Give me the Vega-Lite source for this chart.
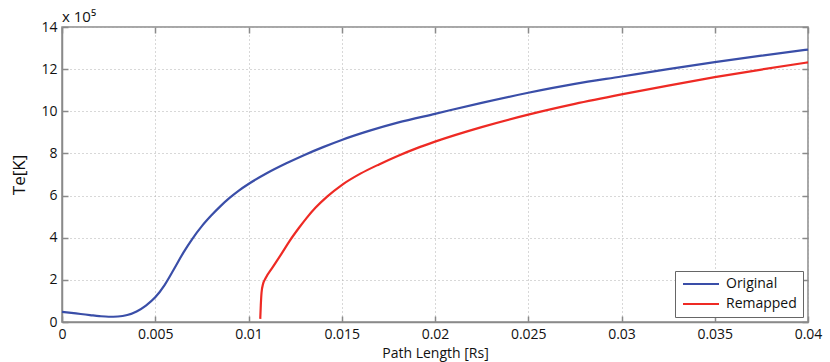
{
  "$schema": "https://vega.github.io/schema/vega-lite/v6.json",
  "width": 746,
  "height": 295,
  "autosize": {"type": "none"},
  "padding": {"left": 62, "top": 27, "right": 22, "bottom": 40},
  "background": "white",
  "config": {
    "font": "Open Sans",
    "view": {"stroke": "#8a8a8a", "strokeWidth": 1.5},
    "axis": {
      "domainColor": "#8a8a8a",
      "domainWidth": 1.5,
      "tickColor": "#8a8a8a",
      "tickWidth": 1.5,
      "tickSize": -6,
      "labelColor": "#111",
      "labelFontSize": 14,
      "titleColor": "#111",
      "titleFontWeight": "normal",
      "gridColor": "#b0b0b0",
      "gridDash": [1, 3],
      "gridWidth": 1
    }
  },
  "title": {
    "text": "x 10⁵",
    "anchor": "start",
    "frame": "group",
    "fontSize": 15,
    "fontWeight": "normal",
    "color": "#111",
    "offset": 3,
    "dy": 8
  },
  "data": {
    "values": [
      {"series": "Original", "path_length": 0, "te": 0.48},
      {"series": "Original", "path_length": 0.0005, "te": 0.43},
      {"series": "Original", "path_length": 0.001, "te": 0.38},
      {"series": "Original", "path_length": 0.0015, "te": 0.33},
      {"series": "Original", "path_length": 0.002, "te": 0.28},
      {"series": "Original", "path_length": 0.0025, "te": 0.25},
      {"series": "Original", "path_length": 0.003, "te": 0.26},
      {"series": "Original", "path_length": 0.0035, "te": 0.33},
      {"series": "Original", "path_length": 0.004, "te": 0.5},
      {"series": "Original", "path_length": 0.0045, "te": 0.78},
      {"series": "Original", "path_length": 0.005, "te": 1.17},
      {"series": "Original", "path_length": 0.0055, "te": 1.75},
      {"series": "Original", "path_length": 0.006, "te": 2.5},
      {"series": "Original", "path_length": 0.0065, "te": 3.28},
      {"series": "Original", "path_length": 0.007, "te": 3.96},
      {"series": "Original", "path_length": 0.0075, "te": 4.55},
      {"series": "Original", "path_length": 0.008, "te": 5.05},
      {"series": "Original", "path_length": 0.0085, "te": 5.5},
      {"series": "Original", "path_length": 0.009, "te": 5.9},
      {"series": "Original", "path_length": 0.0095, "te": 6.25},
      {"series": "Original", "path_length": 0.01, "te": 6.55},
      {"series": "Original", "path_length": 0.011, "te": 7.07},
      {"series": "Original", "path_length": 0.012, "te": 7.52},
      {"series": "Original", "path_length": 0.013, "te": 7.93},
      {"series": "Original", "path_length": 0.014, "te": 8.3},
      {"series": "Original", "path_length": 0.015, "te": 8.64},
      {"series": "Original", "path_length": 0.0165, "te": 9.08},
      {"series": "Original", "path_length": 0.018, "te": 9.46},
      {"series": "Original", "path_length": 0.02, "te": 9.88},
      {"series": "Original", "path_length": 0.0225, "te": 10.4},
      {"series": "Original", "path_length": 0.025, "te": 10.88},
      {"series": "Original", "path_length": 0.0275, "te": 11.3},
      {"series": "Original", "path_length": 0.03, "te": 11.65},
      {"series": "Original", "path_length": 0.0325, "te": 12.0},
      {"series": "Original", "path_length": 0.035, "te": 12.33},
      {"series": "Original", "path_length": 0.0375, "te": 12.64},
      {"series": "Original", "path_length": 0.04, "te": 12.93},
      {"series": "Remapped", "path_length": 0.01063, "te": 0.15},
      {"series": "Remapped", "path_length": 0.01066, "te": 0.8},
      {"series": "Remapped", "path_length": 0.0107, "te": 1.4},
      {"series": "Remapped", "path_length": 0.01078, "te": 1.8},
      {"series": "Remapped", "path_length": 0.0109, "te": 2.05},
      {"series": "Remapped", "path_length": 0.0113, "te": 2.6},
      {"series": "Remapped", "path_length": 0.0118, "te": 3.28},
      {"series": "Remapped", "path_length": 0.0122, "te": 3.84},
      {"series": "Remapped", "path_length": 0.0127, "te": 4.46},
      {"series": "Remapped", "path_length": 0.0131, "te": 4.92},
      {"series": "Remapped", "path_length": 0.0136, "te": 5.43},
      {"series": "Remapped", "path_length": 0.0142, "te": 5.94},
      {"series": "Remapped", "path_length": 0.015, "te": 6.5},
      {"series": "Remapped", "path_length": 0.016, "te": 7.04},
      {"series": "Remapped", "path_length": 0.017, "te": 7.48},
      {"series": "Remapped", "path_length": 0.018, "te": 7.88},
      {"series": "Remapped", "path_length": 0.019, "te": 8.24},
      {"series": "Remapped", "path_length": 0.02, "te": 8.56},
      {"series": "Remapped", "path_length": 0.0225, "te": 9.25},
      {"series": "Remapped", "path_length": 0.025, "te": 9.84},
      {"series": "Remapped", "path_length": 0.0275, "te": 10.35},
      {"series": "Remapped", "path_length": 0.03, "te": 10.8},
      {"series": "Remapped", "path_length": 0.0325, "te": 11.22},
      {"series": "Remapped", "path_length": 0.035, "te": 11.62},
      {"series": "Remapped", "path_length": 0.0375, "te": 11.98},
      {"series": "Remapped", "path_length": 0.04, "te": 12.32}
    ]
  },
  "layer": [
    {
      "mark": {"type": "line", "strokeWidth": 2.2, "interpolate": "monotone"},
      "encoding": {
        "x": {
          "field": "path_length",
          "type": "quantitative",
          "scale": {"domain": [0, 0.04], "nice": false},
          "axis": {
            "title": "Path Length [Rs]",
            "titleFontSize": 14,
            "titlePadding": 5,
            "values": [0, 0.005, 0.01, 0.015, 0.02, 0.025, 0.03, 0.035, 0.04],
            "labelExpr": "format(datum.value, '~g')",
            "labelPadding": 11,
            "labelFlush": false
          }
        },
        "y": {
          "field": "te",
          "type": "quantitative",
          "scale": {"domain": [0, 14], "nice": false},
          "axis": {
            "title": "Te[K]",
            "titleFontSize": 17,
            "titlePadding": 12,
            "values": [0, 2, 4, 6, 8, 10, 12, 14],
            "labelPadding": 11
          }
        },
        "color": {
          "field": "series",
          "type": "nominal",
          "scale": {"domain": ["Original", "Remapped"], "range": ["#3a4ea8", "#ee2a24"]},
          "legend": {
            "title": null,
            "orient": "bottom-right",
            "offset": 5,
            "fillColor": "white",
            "strokeColor": "#666",
            "padding": 6,
            "symbolType": "M-3,0H3",
            "symbolSize": 144,
            "symbolOffset": 13,
            "symbolStrokeWidth": 2,
            "labelOffset": 18,
            "labelFontSize": 14,
            "labelColor": "#111",
            "rowPadding": 6
          }
        }
      }
    },
    {
      "mark": {"type": "line", "opacity": 0},
      "encoding": {
        "x": {
          "field": "path_length",
          "type": "quantitative",
          "axis": {
            "orient": "top",
            "title": null,
            "labels": false,
            "grid": false,
            "domain": false,
            "values": [0, 0.005, 0.01, 0.015, 0.02, 0.025, 0.03, 0.035, 0.04]
          }
        },
        "y": {
          "field": "te",
          "type": "quantitative",
          "axis": {
            "orient": "right",
            "title": null,
            "labels": false,
            "grid": false,
            "domain": false,
            "values": [0, 2, 4, 6, 8, 10, 12, 14]
          }
        },
        "detail": {"field": "series", "type": "nominal"}
      }
    }
  ],
  "resolve": {"axis": {"x": "independent", "y": "independent"}}
}
